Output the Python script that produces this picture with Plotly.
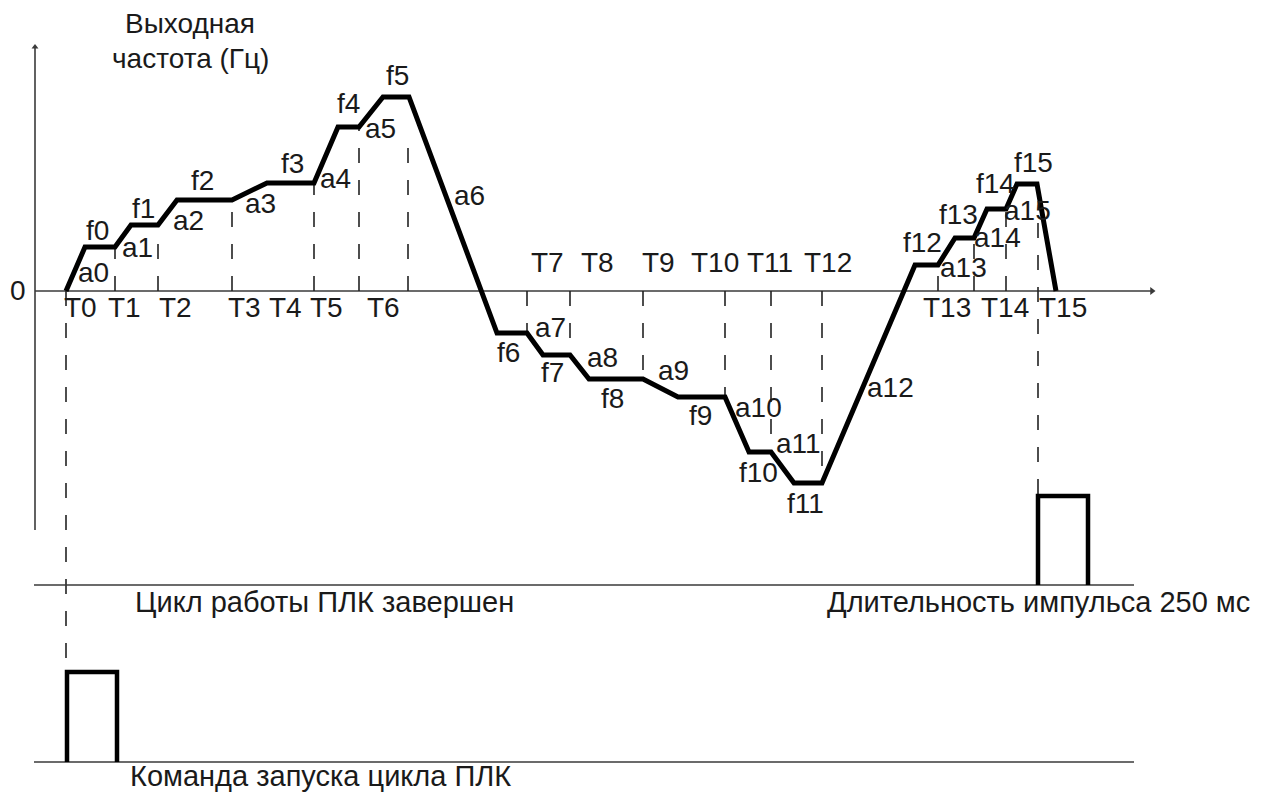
import plotly.graph_objects as go

# ---- Coordinate system: x = time position, y = frequency level (0 = zero line) ----
# Output frequency profile (vertices of the thick curve)
curve_t = [66, 85, 115, 131, 158, 177, 232, 267, 314, 338, 359, 383, 409,
           497, 527, 543, 570, 589, 643, 678, 725, 749, 771, 794, 822,
           915, 938, 955, 974, 987, 1006, 1017, 1037, 1056]
curve_f = [0, 44, 44, 66, 66, 91, 91, 108, 108, 164, 164, 194, 194,
           -42, -42, -64, -64, -88, -88, -106, -106, -161, -161, -192, -192,
           26, 26, 53, 53, 82, 82, 107, 107, 0]

# Dashed guide lines (time, from level, to level)
guide_t = [66, 115, 158, 232, 314, 359, 408, 527, 570, 643, 725, 771, 822, 938, 974, 1006, 1038]
guide_from = [0, 0, 0, 0, 0, 0, 0, 0, 0, 0, 0, 0, 0, 0, 0, 0, 68]
guide_to = [-381, 44, 66, 91, 108, 164, 158, -42, -64, -88, -106, -161, -192, 26, 53, 82, -205]

# Axes extents
xaxis_t = [35, 1152]
yaxis_f = [-239, 244]

# Signal rows: "cycle done" row and "start command" row
done_base = -294
start_base = -471
row_t = [34, 1134]
done_pulse_t = [1038, 1038, 1088, 1088]
done_pulse_f = [-294, -205, -205, -294]
start_pulse_t = [67, 67, 117, 117]
start_pulse_f = [-471, -381, -381, -471]

# Labels
T_names = ["T0", "T1", "T2", "T3", "T4", "T5", "T6", "T7", "T8", "T9", "T10",
           "T11", "T12", "T13", "T14", "T15"]
T_x = [80, 124, 175, 244, 285, 326, 383, 547, 597, 658, 715, 770, 828, 947, 1005, 1063]
T_y = [-16, -16, -16, -16, -16, -16, -16, 29, 29, 29, 29, 29, 29, -16, -16, -16]

f_names = ["f%d" % i for i in range(16)]
f_x = [97, 143, 202, 292, 348, 397, 508, 552, 612, 700, 758, 805, 922, 958, 995, 1033]
f_y = [61, 83, 111, 128, 188, 216, -61, -81, -107, -124, -181, -212, 49, 77, 108, 129]

a_names = ["a%d" % i for i in range(16)]
a_x = [93, 137, 188, 260, 335, 380, 469, 550, 602, 673, 758, 798, 890, 963, 997, 1027]
a_y = [19, 44, 71, 88, 113, 163, 96, -36, -66, -79, -116, -152, -96, 24, 54, 81]

title_lines = ["Выходная", "частота (Гц)"]
title_x = 190
title_y = [268, 233]

zero_label = "0"
done_text = "Цикл работы ПЛК завершен"
start_text = "Команда запуска цикла ПЛК"
pulse_text = "Длительность импульса 250 мс"

FONT = "Arial, 'Liberation Sans', sans-serif"
FS = 28
FS_BOTTOM = 29
TXT = "#1a1a1a"
AX = "#3a3a3a"

fig = go.Figure()

# axes
fig.add_trace(go.Scatter(x=xaxis_t, y=[0, 0], mode="lines",
                         line=dict(color=AX, width=1.6), hoverinfo="skip"))
fig.add_trace(go.Scatter(x=[35, 35], y=yaxis_f, mode="lines",
                         line=dict(color=AX, width=1.6), hoverinfo="skip"))
fig.add_trace(go.Scatter(x=[xaxis_t[1]], y=[0], mode="markers",
                         marker=dict(symbol="triangle-right", size=7, color=AX),
                         hoverinfo="skip"))
fig.add_trace(go.Scatter(x=[35], y=[yaxis_f[1]], mode="markers",
                         marker=dict(symbol="triangle-up", size=6, color=AX),
                         hoverinfo="skip"))

# dashed guides
for t, a, b in zip(guide_t, guide_from, guide_to):
    fig.add_trace(go.Scatter(x=[t, t], y=[a, b], mode="lines",
                             line=dict(color="#222", width=1.6, dash="15px,17px"),
                             hoverinfo="skip"))

# signal baselines
fig.add_trace(go.Scatter(x=row_t, y=[done_base, done_base], mode="lines",
                         line=dict(color=AX, width=1.6), hoverinfo="skip"))
fig.add_trace(go.Scatter(x=row_t, y=[start_base, start_base], mode="lines",
                         line=dict(color=AX, width=1.6), hoverinfo="skip"))

# pulses
fig.add_trace(go.Scatter(x=done_pulse_t, y=done_pulse_f, mode="lines",
                         line=dict(color="black", width=4.5), hoverinfo="skip"))
fig.add_trace(go.Scatter(x=start_pulse_t, y=start_pulse_f, mode="lines",
                         line=dict(color="black", width=4.5), hoverinfo="skip"))

# frequency curve
fig.add_trace(go.Scatter(x=curve_t, y=curve_f, mode="lines",
                         line=dict(color="black", width=5), hoverinfo="skip"))

ann = []
def lab(text, x, y, xanchor="center", size=FS):
    ann.append(dict(x=x, y=y, text=text, showarrow=False, xanchor=xanchor,
                    yanchor="middle", font=dict(family=FONT, size=size, color=TXT)))

for n, x, y in zip(T_names, T_x, T_y):
    lab(n, x, y)
for n, x, y in zip(f_names, f_x, f_y):
    lab(n, x, y)
for n, x, y in zip(a_names, a_x, a_y):
    lab(n, x, y)
for n, y in zip(title_lines, title_y):
    lab(n, title_x, y)
lab(zero_label, 18, 1)
lab(done_text, 133, -311, "left", FS_BOTTOM)
lab(start_text, 128, -485, "left", FS_BOTTOM)
lab(pulse_text, 825, -311, "left", FS_BOTTOM)

# page body has an 8px margin: the figure is sized and ranged so that it
# fills the visible window exactly
fig.update_layout(
    width=1254, height=786,
    margin=dict(l=0, r=0, t=0, b=0),
    paper_bgcolor="white", plot_bgcolor="white",
    showlegend=False,
    xaxis=dict(range=[8, 1262], visible=False, fixedrange=True),
    yaxis=dict(range=[-503, 283], visible=False, fixedrange=True),
    annotations=ann,
)

fig.write_html("out.html", config={"displayModeBar": False})
